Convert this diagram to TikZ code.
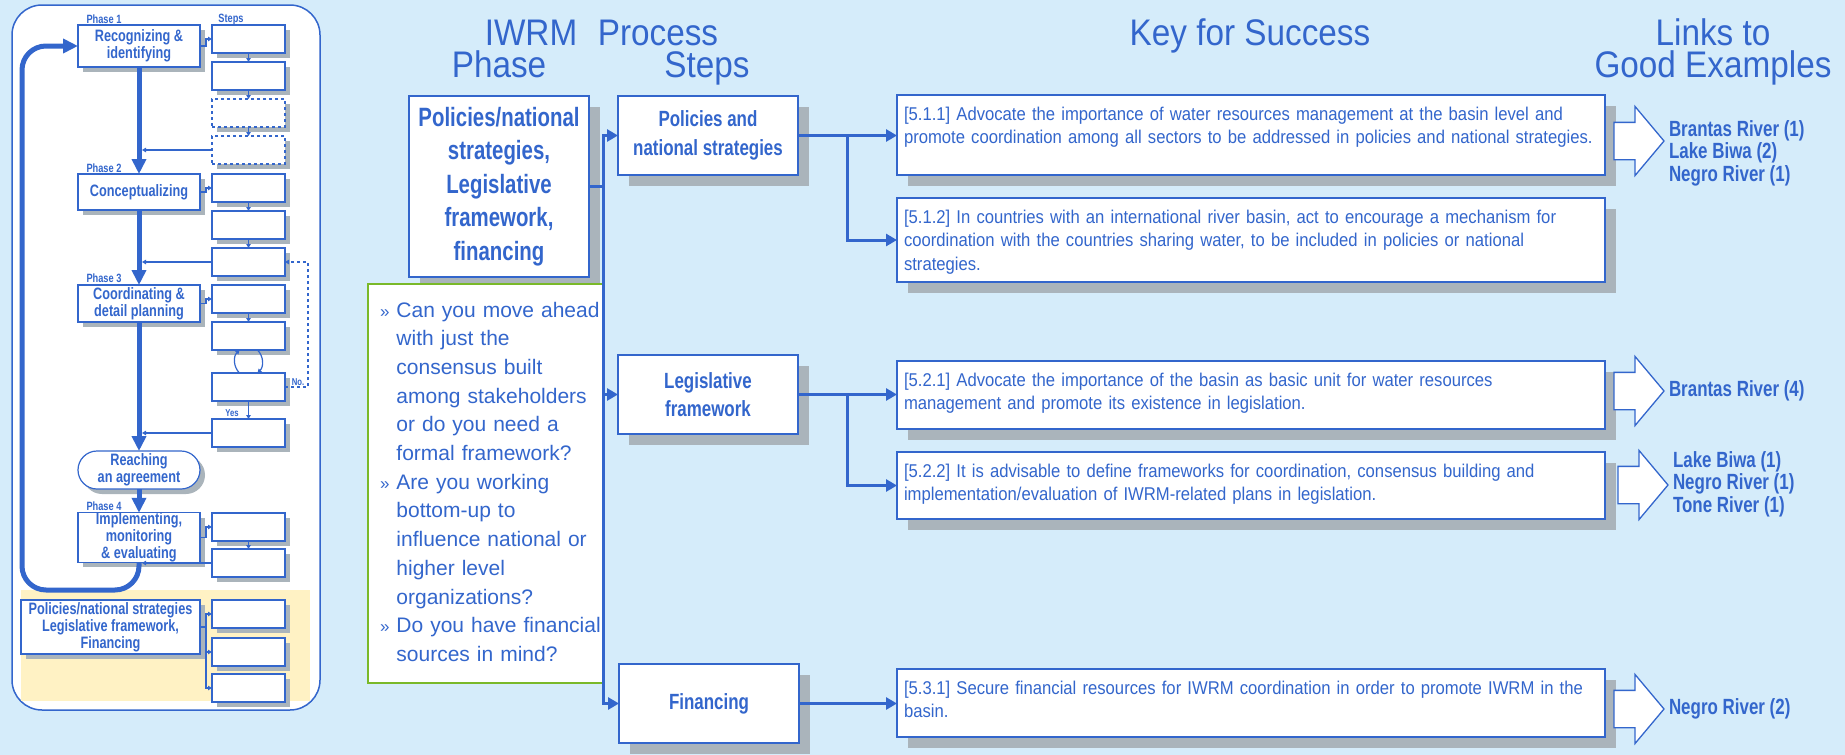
\documentclass[tikz,border=0pt]{standalone}
\usepackage{fontspec}
\setmainfont{Liberation Sans}
\newfontfamily\narrowfont[FakeStretch=0.9]{Liberation Sans}
\newfontfamily\boldnarrow[FakeStretch=0.77]{Liberation Sans}
\newfontfamily\titlefont[FakeStretch=0.9]{Liberation Sans}
\usetikzlibrary{positioning, arrows.meta, shadows, shapes.arrows}
\definecolor{iwblue}{RGB}{51,102,204}
\definecolor{skybg}{RGB}{213,236,250}
\definecolor{shadegray}{RGB}{170,180,187}
\definecolor{qgreen}{RGB}{122,185,41}
\definecolor{paleyellow}{RGB}{255,242,196}
\tikzset{every node/.style={inner sep=0pt, outer sep=0pt, text=iwblue},
         shadowed/.style={drop shadow={shadow xshift=#1, shadow yshift=-#1, fill=shadegray, opacity=1}},
         headline/.style={font=\titlefont\fontsize{37}{32}\selectfont},
         phasebox/.style={draw=iwblue, line width=1.6pt, fill=white, align=center, shadowed=11pt,
                font=\boldnarrow\bfseries\fontsize{26.5}{33.5}\selectfont},
         stepbox/.style={draw=iwblue, line width=1.6pt, fill=white, align=center, shadowed=11pt,
                minimum width=180pt, minimum height=79pt, font=\boldnarrow\bfseries\fontsize{22}{28.5}\selectfont},
         keybox/.style={draw=iwblue, line width=1.6pt, fill=white, align=left, shadowed=11pt,
                text width=694pt, inner xsep=7pt, inner ysep=8pt, text height=17pt,
                font=\narrowfont\fontsize{18.5}{23.5}\selectfont},
         qbox/.style={draw=qgreen, line width=1.6pt, fill=white, text width=211pt, inner xsep=12pt,
                font=\fontsize{21}{28.7}\selectfont},
         fatarrow/.style={single arrow, draw=iwblue, fill=white, line width=1.3pt, minimum height=50pt,
                minimum width=68pt, inner ysep=18pt, single arrow head extend=16pt, single arrow tip angle=100,
                single arrow head indent=0pt},
         linktext/.style={align=left, font=\boldnarrow\bfseries\fontsize{22}{22.5}\selectfont},
         minibox/.style={draw=iwblue, line width=1.2pt, fill=white, minimum width=73pt, minimum height=28pt, shadowed=5pt},
         miniphase/.style={draw=iwblue, line width=1.2pt, fill=white, align=center, minimum width=122pt, shadowed=5pt,
                font=\boldnarrow\bfseries\fontsize{16.5}{17}\selectfont},
         minitag/.style={font=\boldnarrow\bfseries\fontsize{12}{12}\selectfont},
         thickarrow/.style={line width=5pt, draw=iwblue, -{Triangle[length=15pt,width=14pt]}},
         miniarrow/.style={line width=1.2pt, draw=iwblue, -{Triangle[length=4pt,width=4.5pt]}},
         connarrow/.style={line width=3pt, draw=iwblue, -{Triangle[length=11pt,width=12pt]}},
        }

\begin{document}
\begin{tikzpicture}[x=1pt, y=-1pt]
        \useasboundingbox (0,0) rectangle (1845,755);
        \fill[skybg] (0,0) rectangle (1845,755);

        \draw[draw=iwblue, line width=1.5pt, fill=white, rounded corners=30pt] (12,5) rectangle (320,710);
        \fill[paleyellow] (21,590) rectangle (310,701);

        \node[minitag](t1)at(104,19){Phase 1};
        \node[minitag](t2)at(104,168){Phase 2};
        \node[minitag](t3)at(104,278){Phase 3};
        \node[minitag](t4)at(104,506){Phase 4};
        \node[minitag](tsteps)at(231,20){Steps};
        \node[minitag, font=\boldnarrow\bfseries\fontsize{10}{10}\selectfont](tyes)at(232,413){Yes};
        \node[minitag, font=\boldnarrow\bfseries\fontsize{10}{10}\selectfont](tno)at(298,382){No.};

        \node[miniphase, minimum height=42pt](mp1)at(139,46){Recognizing \&\\identifying};
        \node[miniphase, minimum height=36pt](mp2)at(139,192){Conceptualizing};
        \node[miniphase, minimum height=37pt](mp3)at(139,303.5){Coordinating \&\\detail planning};
        \node[miniphase, minimum height=38pt, rounded corners=19pt](mreach)at(139,470){Reaching\\an agreement};
        \node[miniphase, minimum height=49pt](mp4)at(139,537.5){Implementing,\\monitoring\\\& evaluating};
        \node[miniphase, minimum width=179pt, minimum height=54pt](mpol)at(110.5,627){Policies/national strategies\\Legislative framework,\\Financing};

        \node[minibox](ms1)at(248.5,39){};
        \node[minibox](ms2)at(248.5,76){};
        \node[minibox, dashed](ms3)at(248.5,113){};
        \node[minibox, dashed](ms4)at(248.5,150){};
        \node[minibox](ms5)at(248.5,188){};
        \node[minibox](ms6)at(248.5,225){};
        \node[minibox](ms7)at(248.5,262){};
        \node[minibox](ms8)at(248.5,299){};
        \node[minibox](ms9)at(248.5,336){};
        \node[minibox](ms10)at(248.5,387){};
        \node[minibox](ms11)at(248.5,433){};
        \node[minibox](ms12)at(248.5,527){};
        \node[minibox](ms13)at(248.5,563){};
        \node[minibox](ms14)at(248.5,614){};
        \node[minibox](ms15)at(248.5,652){};
        \node[minibox](ms16)at(248.5,688){};

        \draw[thickarrow](mp1)--(mp2);
        \draw[thickarrow](mp2)--(mp3);
        \draw[thickarrow](mp3)--(mreach);
        \draw[thickarrow](mreach)--(mp4);
        \draw[thickarrow, rounded corners=24pt](mp4.south)|-(22,590)|-(mp1.west);

        \draw[miniarrow](mp1.east)--++(6,0)|-(ms1.west);
        \draw[miniarrow](mp2.east)--++(6,0)|-(ms5.west);
        \draw[miniarrow](mp3.east)--++(6,0)|-(ms8.west);
        \draw[miniarrow](mp4.east)--++(6,0)|-(ms12.west);
        \draw[miniarrow](ms1)--(ms2);
        \draw[miniarrow](ms2)--(ms3);
        \draw[miniarrow](ms3)--(ms4);
        \draw[miniarrow](ms5)--(ms6);
        \draw[miniarrow](ms6)--(ms7);
        \draw[miniarrow](ms8)--(ms9);
        \draw[miniarrow](ms10)--(ms11);
        \draw[miniarrow](ms12)--(ms13);
        \draw[miniarrow]([xshift=-9pt]ms10.north)to[bend left=45]([xshift=-9pt]ms9.south);
        \draw[miniarrow]([xshift=9pt]ms9.south)to[bend left=45]([xshift=9pt]ms10.north);
        \draw[miniarrow, dashed](ms10.east)--++(23,0)|-(ms7.east);
        \draw[miniarrow, shorten >=3pt](ms4.west)--(ms4.west-|mp2.north);
        \draw[miniarrow, shorten >=3pt](ms7.west)--(ms7.west-|mp3.north);
        \draw[miniarrow, shorten >=3pt](ms11.west)--(ms11.west-|mreach.north);
        \draw[miniarrow, shorten >=3pt](ms13.west)--(ms13.west-|mp4.south);
        \draw[miniarrow](mpol.east)--++(6,0)|-(ms14.west);
        \draw[miniarrow](mpol.east)--++(6,0)|-(ms15.west);
        \draw[miniarrow](mpol.east)--++(6,0)|-(ms16.west);

        \node[headline, anchor=base](hiwrm)at(531,45){IWRM};
        \node[headline, anchor=base](hproc)at(658,45){Process};
        \node[headline, anchor=base](hphase)at(499,77){Phase};
        \node[headline, anchor=base](hsteps)at(707,77){Steps};
        \node[headline, anchor=base](hkey)at(1250,45){Key for Success};
        \node[headline, anchor=base, align=center](hlinks)at(1713,77){Links to\\Good Examples};

        \node[phasebox, anchor=north west, minimum width=180pt, minimum height=181pt](ipol)at(409,96){Policies/national\\strategies,\\Legislative\\framework,\\financing};
        \node[qbox, anchor=north west, minimum height=399pt](qs)at(368,284){%
                \begin{tabular}{@{}l@{\hspace{7pt}}l@{}}
                {\fontsize{17}{17}\selectfont »} & Can you move ahead\\
                 & with just the\\
                 & consensus built\\
                 & among stakeholders\\
                 & or do you need a\\
                 & formal framework?\\
                {\fontsize{17}{17}\selectfont »} & Are you working\\
                 & bottom-up to\\
                 & influence national or\\
                 & higher level\\
                 & organizations?\\
                {\fontsize{17}{17}\selectfont »} & Do you have financial\\
                 & sources in mind?
                \end{tabular}};

        \node[stepbox, anchor=north west](spol)at(618,96){Policies and\\national strategies};
        \node[stepbox, anchor=north west](sleg)at(618,355){Legislative\\framework};
        \node[stepbox, anchor=north west](sfin)at(619,664){Financing};
        \draw[connarrow](ipol.east)--++(14,0)|-(spol.west);
        \draw[connarrow](ipol.east)--++(14,0)|-(sleg.west);
        \draw[connarrow](ipol.east)--++(14,0)|-(sfin.west);

        \node[keybox, anchor=north west, text depth=47pt](k511)at(897,95){[5.1.1] Advocate the importance of water resources management at the basin level and\\promote coordination among all sectors to be addressed in policies and national strategies.};
        \node[keybox, anchor=north west, text depth=51pt](k512)at(897,198){[5.1.2] In countries with an international river basin, act to encourage a mechanism for\\coordination with the countries sharing water, to be included in policies or national\\strategies.};
        \node[keybox, anchor=north west, text depth=35pt](k521)at(897,361){[5.2.1] Advocate the importance of the basin as basic unit for water resources\\management and promote its existence in legislation.};
        \node[keybox, anchor=north west, text depth=34pt](k522)at(897,452){[5.2.2] It is advisable to define frameworks for coordination, consensus building and\\implementation/evaluation of IWRM-related plans in legislation.};
        \node[keybox, anchor=north west, text depth=35pt](k531)at(897,669){[5.3.1] Secure financial resources for IWRM coordination in order to promote IWRM in the\\basin.};
        \draw[connarrow](spol.east)--(spol.east-|k511.west);
        \draw[connarrow](spol.east)--++(49,0)|-(k512.west);
        \draw[connarrow](sleg.east)--(sleg.east-|k521.west);
        \draw[connarrow](sleg.east)--++(49,0)|-(k522.west);
        \draw[connarrow](sfin.east)--(sfin.east-|k531.west);

        \node[fatarrow, anchor=tail](fa1)at(1614,141){};
        \node[fatarrow, anchor=tail](fa2)at(1614,391){};
        \node[fatarrow, anchor=tail](fa3)at(1618,485){};
        \node[fatarrow, anchor=tail](fa4)at(1614,709){};
        \node[linktext, anchor=west](ex1)at(1669,153){Brantas River (1)\\Lake Biwa (2)\\Negro River (1)};
        \node[linktext, anchor=west](ex2)at(1669,391){Brantas River (4)};
        \node[linktext, anchor=west](ex3)at(1673,484){Lake Biwa (1)\\Negro River (1)\\Tone River (1)};
        \node[linktext, anchor=west](ex4)at(1669,709){Negro River (2)};
\end{tikzpicture}
\end{document}
